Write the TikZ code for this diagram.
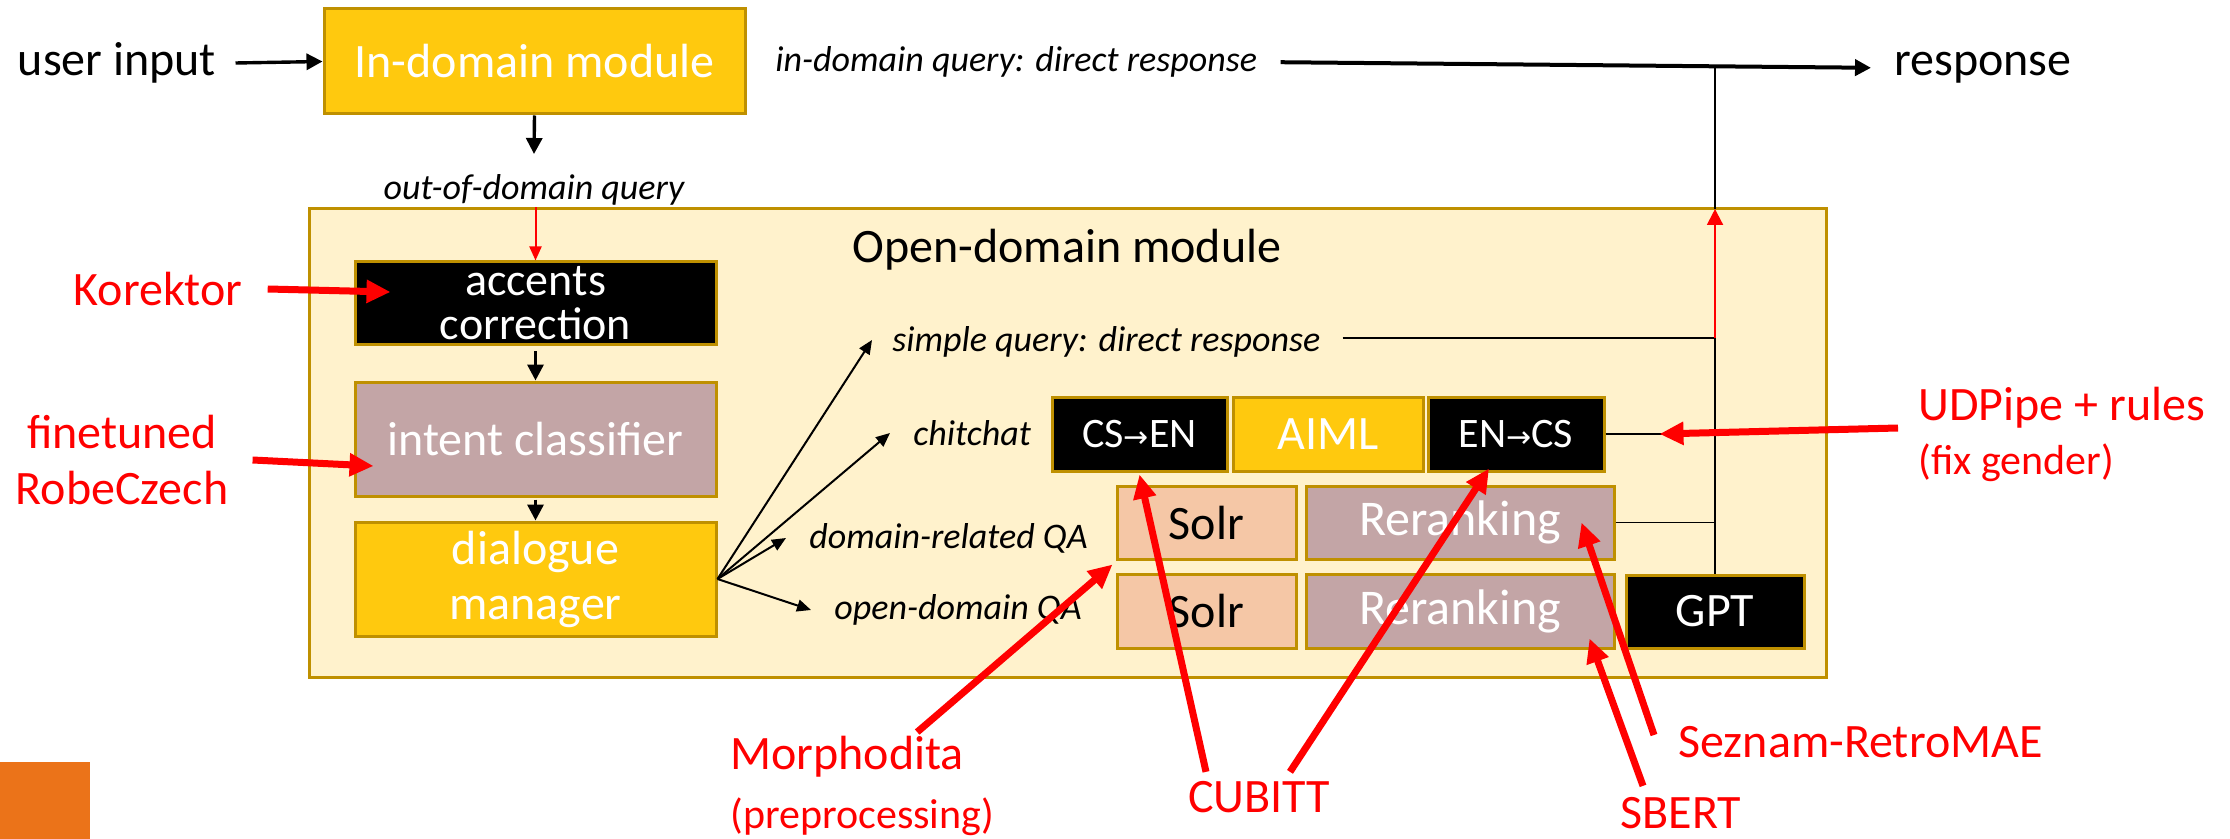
\documentclass[tikz,border=0pt]{standalone}
\usepackage{fontspec}
\setmainfont{Carlito}
\newfontfamily\symf{DejaVu Sans}
\usetikzlibrary{arrows.meta,calc}
\definecolor{gold}{HTML}{FFC90E}
\definecolor{goldline}{HTML}{BF9000}
\definecolor{cream}{HTML}{FFF2CC}
\definecolor{rosy}{HTML}{C3A5A6}
\definecolor{peach}{HTML}{F5C7A6}
\definecolor{redc}{HTML}{FF0000}
\definecolor{orangec}{HTML}{EB7319}
\newcommand{\arr}{{\symf\fontsize{15}{15}\selectfont →}}
\begin{document}
\begin{tikzpicture}[x=0.5pt,y=-0.5pt,
  box/.style={draw=goldline, line width=1.5pt, inner sep=0pt, align=center, font=\fontsize{24}{21.5}\selectfont},
  goldbox/.style={box, fill=gold, text=white},
  blackbox/.style={box, fill=black, text=white},
  rosybox/.style={box, fill=rosy, text=white},
  peachbox/.style={box, fill=peach, text=black},
  lbl/.style={inner sep=0pt, font=\fontsize{18}{20}\selectfont\itshape},
  big/.style={inner sep=0pt, font=\fontsize{24}{28}\selectfont},
  redlbl/.style={inner sep=0pt, text=redc, font=\fontsize{24}{28}\selectfont},
  redsmall/.style={inner sep=0pt, text=redc, font=\fontsize{21}{24}\selectfont},
  flow/.style={line width=1.7pt, -{Triangle[length=8pt,width=8pt]}},
  fan/.style={line width=1pt, -{Triangle[length=7pt,width=6pt]}},
  thinline/.style={line width=0.8pt},
  note/.style={draw=redc, line width=3.5pt, -{Triangle[length=12pt,width=11pt]}},
]
\useasboundingbox (0,0) rectangle (2230,839);
\node[fill=orangec, inner sep=0pt, minimum width=45pt, minimum height=38.5pt] (sq) at (45,800.5) {};

% top row
\node[big] (user) at (117,63) {user input};
\node[goldbox, minimum width=210.5pt, minimum height=52.5pt] (indom) at (534.5,61.5) {In-domain module};
\node[lbl, anchor=west] (indq) at (775,62) {in-domain query: direct response};
\node[big, anchor=west] (resp) at (1894,68) {response};
\node[lbl] (ood) at (534,190) {out-of-domain query};
\coordinate (oodtip) at (534,154);

% open-domain module
\node[box, fill=cream, minimum width=758.5pt, minimum height=234pt] (open) at (1067.5,443) {};
\node[big] (opent) at (1067,250) {Open-domain module};

\node[blackbox, minimum width=180.5pt, minimum height=41.5pt, font=\fontsize{23}{22}\selectfont] (acc) at (535.5,303.5) {accents\\correction};
\node[rosybox, minimum width=180.5pt, minimum height=57pt] (intent) at (535.5,439) {intent classifier};
\node[goldbox, minimum width=180.5pt, minimum height=57pt, font=\fontsize{24}{27.5}\selectfont] (dm) at (535.5,579) {dialogue\\manager};

\node[lbl, anchor=west] (simple) at (892,342) {simple query: direct response};
\node[lbl, anchor=west] (chit) at (913,433) {chitchat};
\node[lbl, anchor=west] (drqa) at (809,538) {domain-related QA};
\node[lbl, anchor=west] (odqa) at (834,610) {open-domain QA};

\node[blackbox, minimum width=87.5pt, minimum height=37pt, font=\fontsize{21}{22}\selectfont] (csen) at (1139.5,434) {CS\arr EN};
\node[goldbox, minimum width=95pt, minimum height=37pt] (aiml) at (1328,434) {AIML};
\node[blackbox, minimum width=88pt, minimum height=37pt, font=\fontsize{21}{22}\selectfont] (encs) at (1516,434) {EN\arr CS};
\node[peachbox, minimum width=89.5pt, minimum height=36.5pt] (solr1) at (1206.5,522.5) {Solr};
\node[rosybox, minimum width=154pt, minimum height=36.5pt, font=\fontsize{25}{22}\selectfont] (rr1) at (1460,522.5) {Reranking};
\node[peachbox, minimum width=89.5pt, minimum height=37pt] (solr2) at (1206.5,611) {Solr};
\node[rosybox, minimum width=154pt, minimum height=37pt, font=\fontsize{25}{22}\selectfont] (rr2) at (1460,611) {Reranking};
\node[blackbox, minimum width=89pt, minimum height=36.5pt] (gpt) at (1715,611.5) {GPT};

% black flow
\draw[flow] (user.east) ++(9.5pt,0) -- (indom.west);
\draw[flow] (indom.south) -- (oodtip);
\draw[redc, line width=1pt, -{Triangle[length=7pt,width=6pt]}] (open.north -| acc.north) -- (acc.north);
\draw[flow, shorten <=2.5pt] (acc.south) -- (intent.north);
\draw[flow, shorten <=1pt] (intent.south) -- (dm.north);

\draw[fan] (dm.east) -- ([xshift=-10pt,yshift=1pt]simple.west);
\draw[fan] (dm.east) -- ([xshift=-11.5pt]chit.west);
\draw[fan] (dm.east) -- ([xshift=-11.5pt]drqa.west);
\draw[fan] (dm.east) -- ([xshift=-11.5pt]odqa.west);

% output collection
\coordinate (jsimple) at (1715,338);
\coordinate (jtop) at (1715,209);
\coordinate (jresp) at (1715,65);
\draw[thinline] ([xshift=11pt]simple.east |- jsimple) -- (jsimple);
\draw[thinline] (gpt.north) -- (jsimple);
\draw[redc, line width=1pt, -{Triangle[length=8pt,width=8pt]}] (jsimple) -- (jtop);
\draw[line width=1.2pt] (jtop) -- (jresp);
\draw[thinline] (encs.east) -- (encs.east -| jsimple);
\draw[thinline] (rr1.east) -- (rr1.east -| jsimple);
\draw[line width=2pt, -{Triangle[length=8pt,width=8pt]}, shorten <=11.5pt, shorten >=11.5pt] (indq.east) -- (resp.west);

% red annotations
\node[redlbl] (kor) at (158,289) {Korektor};
\node[redlbl, align=center, font=\fontsize{24}{28}\selectfont] (ft) at (122,460) {finetuned\\RobeCzech};
\node[redlbl, anchor=west] (udp) at (1918,408) {UDPipe + rules};
\node[redsmall, anchor=west] (fix) at (1918,463) {(fix gender)};
\node[redlbl, anchor=west] (morph) at (730,757) {Morphodita};
\node[redsmall, anchor=west] (prep) at (730,817) {(preprocessing)};
\node[redlbl] (cub) at (1259,797) {CUBITT};
\node[redlbl, anchor=west] (sez) at (1678,742) {Seznam-RetroMAE};
\node[redlbl] (sb) at (1681,813) {SBERT};

\draw[note] ([xshift=12.5pt]kor.east) -- ([shift={(18.5pt,5.75pt)}]acc.west);
\draw[note] ([xshift=12pt]ft.east) -- ([shift={(10pt,-13.5pt)}]intent.west);
\draw[note] ([shift={(-10pt,-10pt)}]udp.west) -- ([xshift=27pt]encs.east);
\draw[note] ([shift={(35pt,2pt)}]morph.north) -- ([shift={(-1.5pt,-2pt)}]solr1.south west);
\draw[note] ([shift={(-26.5pt,4.5pt)}]cub.north) -- ([yshift=-1pt]csen.south);
\draw[note] ([shift={(15.5pt,4.5pt)}]cub.north) -- ([shift={(-13.5pt,2pt)}]encs.south);
\draw[note] ([shift={(-12pt,3.5pt)}]sez.west) -- ([xshift=-17pt]rr1.east);
\draw[note] ([shift={(-19pt,5.5pt)}]sb.north) -- ([shift={(-13pt,5.5pt)}]rr2.south east);
\end{tikzpicture}
\end{document}
